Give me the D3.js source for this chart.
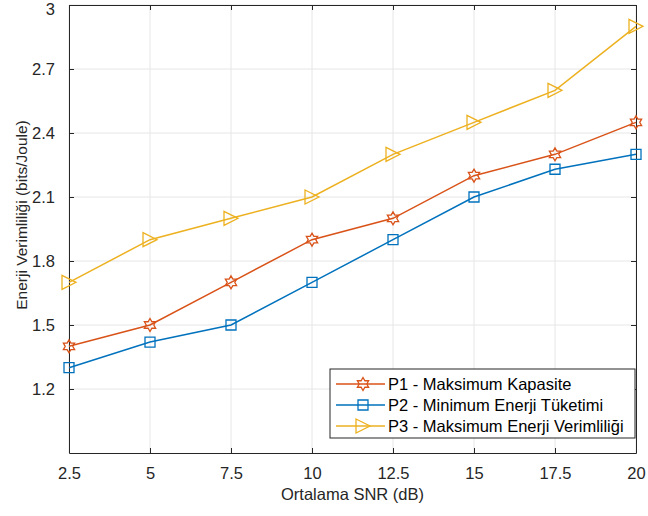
<!DOCTYPE html>
<html>
<head>
<meta charset="utf-8">
<script src="https://cdn.jsdelivr.net/npm/d3@7"></script>
<style>
  html, body { margin: 0; padding: 0; background: #fff; }
  svg { display: block; font-family: "Liberation Sans", Arial, sans-serif; }
</style>
</head>
<body>
<svg id="chart" width="648" height="516"></svg>
<script>
// SNR values on the x axis (dB)
const snr = [2.5, 5, 7.5, 10, 12.5, 15, 17.5, 20];
// Energy efficiency per scheme (bits/Joule)
const p1 = [1.4, 1.5, 1.7, 1.9, 2.0, 2.2, 2.3, 2.45];
const p2 = [1.3, 1.42, 1.5, 1.7, 1.9, 2.1, 2.23, 2.3];
const p3 = [1.7, 1.9, 2.0, 2.1, 2.3, 2.45, 2.6, 2.9];
const seriesNames = ["P1 - Maksimum Kapasite", "P2 - Minimum Enerji  Tüketimi", "P3 - Maksimum Enerji Verimliliği"];
const xTicks = [2.5, 5, 7.5, 10, 12.5, 15, 17.5, 20];
const yTicks = [1.2, 1.5, 1.8, 2.1, 2.4, 2.7, 3];

const colors = ["#D95319", "#0072BD", "#EDB120"];
const markers = ["hexagram", "square", "triangleRight"];
const FS = "16.5px";

const margin = { left: 69, top: 5, right: 12, bottom: 63 };
const W = 648, H = 516;
const iw = W - margin.left - margin.right;
const ih = H - margin.top - margin.bottom;

const svg = d3.select("#chart");
const g = svg.append("g").attr("transform", `translate(${margin.left},${margin.top})`);

const x = d3.scaleLinear().domain([2.5, 20]).range([0, iw]);
const y = d3.scaleLinear().domain([0.9, 3]).range([ih, 0]);

// grid
g.append("g").selectAll("line").data(xTicks).join("line")
  .attr("x1", d => x(d)).attr("x2", d => x(d)).attr("y1", 0).attr("y2", ih)
  .attr("stroke", "#e6e6e6").attr("stroke-width", 1);
g.append("g").selectAll("line").data(yTicks).join("line")
  .attr("y1", d => y(d)).attr("y2", d => y(d)).attr("x1", 0).attr("x2", iw)
  .attr("stroke", "#e6e6e6").attr("stroke-width", 1);

// axes with inward ticks
const fmt = d => String(d);
const xAxis = g.append("g").attr("transform", `translate(0,${ih})`)
  .call(d3.axisBottom(x).tickValues(xTicks).tickFormat(fmt).tickSizeInner(-5).tickSizeOuter(0).tickPadding(14));
const yAxis = g.append("g")
  .call(d3.axisLeft(y).tickValues(yTicks).tickFormat(fmt).tickSizeInner(-5).tickSizeOuter(0).tickPadding(14));
const xTop = g.append("g")
  .call(d3.axisTop(x).tickValues(xTicks).tickFormat("").tickSizeInner(-5).tickSizeOuter(0));
const yRight = g.append("g").attr("transform", `translate(${iw},0)`)
  .call(d3.axisRight(y).tickValues(yTicks).tickFormat("").tickSizeInner(-5).tickSizeOuter(0));

[xAxis, yAxis, xTop, yRight].forEach(a => {
  a.attr("font-size", null).attr("font-family", null);
  a.selectAll("path.domain").attr("stroke", "#262626").attr("stroke-width", 1);
  a.selectAll(".tick line").attr("stroke", "#262626");
  a.selectAll(".tick text").attr("fill", "#262626").style("font-size", FS);
});
// keep the top tick label inside the canvas
yAxis.selectAll(".tick text").filter(d => d === 3).attr("dy", "0.58em");

// axis titles
svg.append("text").attr("x", margin.left + iw / 2).attr("y", 500)
  .attr("text-anchor", "middle").attr("fill", "#262626").style("font-size", FS)
  .text("Ortalama SNR (dB)");
svg.append("text").attr("transform", `translate(27,215) rotate(-90)`)
  .attr("text-anchor", "middle").attr("fill", "#262626").style("font-size", "15.5px")
  .text("Enerji Verimliliği (bits/Joule)");

// marker shapes
function markerPath(type, s) {
  if (type === "square") {
    return `M${-s},${-s}H${s}V${s}H${-s}Z`;
  }
  if (type === "triangleRight") {
    return `M${-s},${-s}L${s},0L${-s},${s}Z`;
  }
  // six-pointed star
  const pts = [];
  for (let i = 0; i < 12; i++) {
    const r = i % 2 === 0 ? s : s * 0.58;
    const a = -Math.PI / 2 + i * Math.PI / 6;
    pts.push([r * Math.cos(a), r * Math.sin(a)]);
  }
  return "M" + pts.map(p => p.join(",")).join("L") + "Z";
}
const markerSize = [6.5, 5, 7];

const allSeries = [p1, p2, p3];
const line = d3.line().x((d, i) => x(snr[i])).y(d => y(d));

allSeries.forEach((vals, k) => {
  g.append("path").datum(vals).attr("d", line)
    .attr("fill", "none").attr("stroke", colors[k]).attr("stroke-width", 1.5);
  g.append("g").selectAll("path").data(vals).join("path")
    .attr("transform", (d, i) => `translate(${x(snr[i])},${y(d)})`)
    .attr("d", markerPath(markers[k], markerSize[k]))
    .attr("fill", "none").attr("stroke", colors[k]).attr("stroke-width", 1.3);
});

// legend
const lg = svg.append("g").attr("transform", "translate(330,369)");
lg.append("rect").attr("width", 305).attr("height", 69)
  .attr("fill", "#fff").attr("stroke", "#262626").attr("stroke-width", 1);
seriesNames.forEach((name, k) => {
  const cy = 15 + k * 21;
  lg.append("line").attr("x1", 6).attr("x2", 55).attr("y1", cy).attr("y2", cy)
    .attr("stroke", colors[k]).attr("stroke-width", 1.5);
  lg.append("path").attr("transform", `translate(33,${cy})`)
    .attr("d", markerPath(markers[k], markerSize[k]))
    .attr("fill", "none").attr("stroke", colors[k]).attr("stroke-width", 1.3);
  lg.append("text").attr("x", 58).attr("y", cy + 6).attr("fill", "#000")
    .style("font-size", FS).text(name);
});
</script>
</body>
</html>
